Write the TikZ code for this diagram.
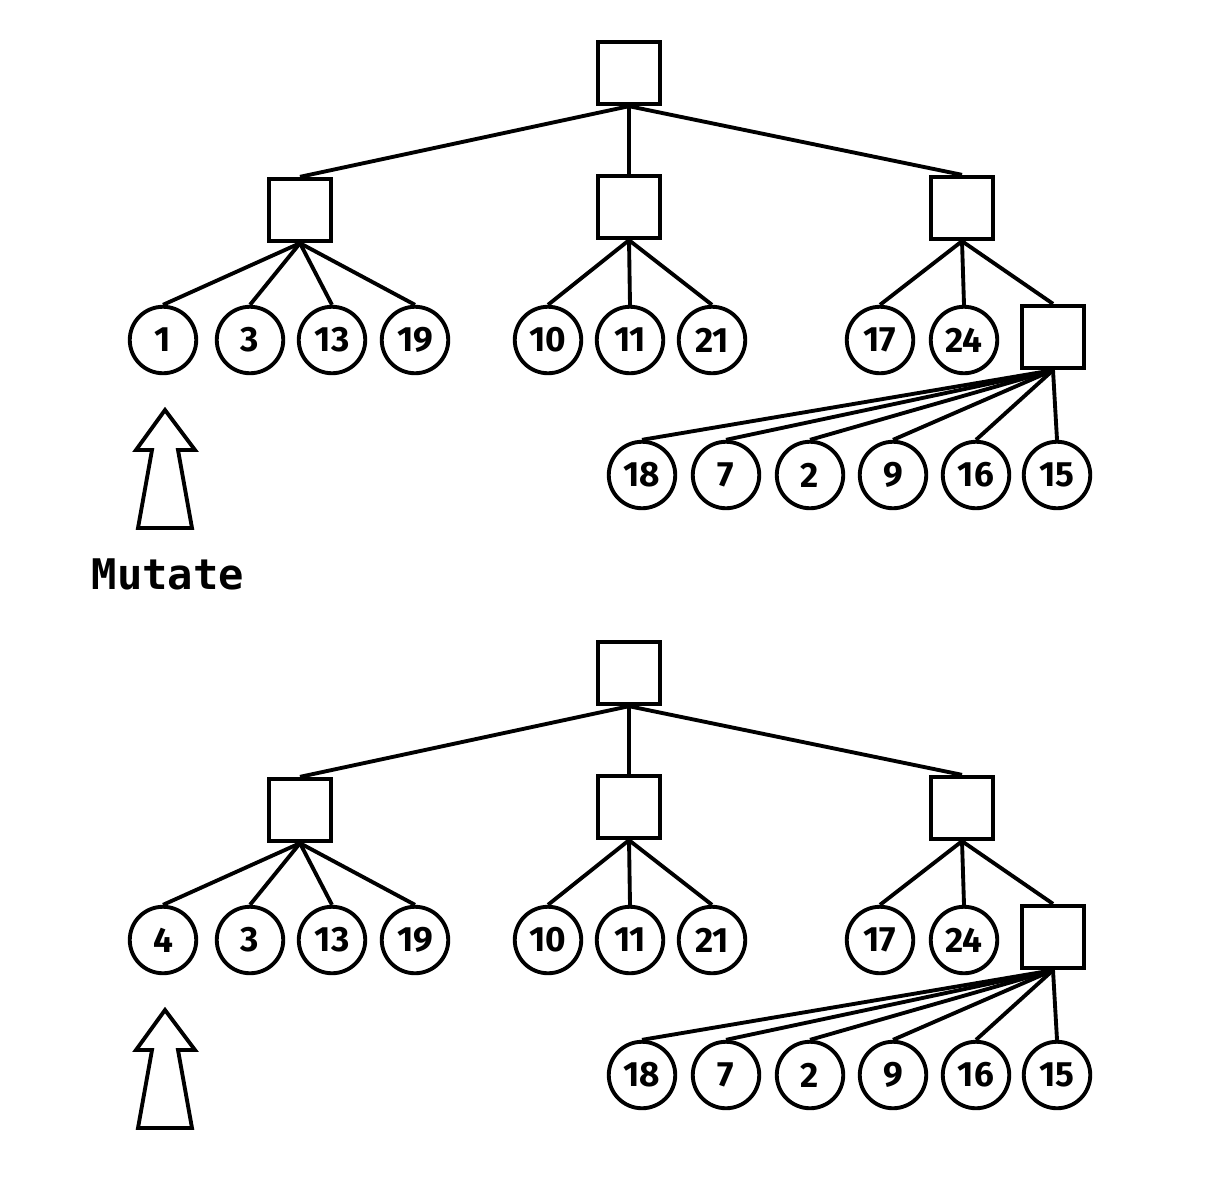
\documentclass[tikz,border=0pt]{standalone}
\usepackage{fontspec}
\setsansfont{Fira Sans}
\setmonofont{DejaVu Sans Mono}
\begin{document}
\begin{tikzpicture}
	[
		x                = 0.02cm,
		y                = -0.02cm,
		line width       = 2.2pt,
		box/.style       = {draw, minimum size=1.25cm, inner sep=0pt},
		leaf/.style      = {draw, circle, minimum size=1.33cm, inner sep=0pt,
		                    font=\sffamily\bfseries\fontsize{20}{20}\selectfont},
		uparrow/.style   = {draw, line join=miter}
	]
	\useasboundingbox (0,0) rectangle (1222,1177);
	% two copies of the tree, before and after the mutation
	\foreach \dy/\first/\t in {0/1/a, 600/4/b} {
		\begin{scope}[shift={(0,\dy)}]
			\node [box] (r\t) at (629, 73) {};
			\node [box] (a\t) at (300,210) {};
			\node [box] (b\t) at (629,207) {};
			\node [box] (c\t) at (962,208) {};
			\node [box] (d\t) at (1053,337) {};
			\foreach \n in {a,b,c}
				\draw (r\t.south) -- (\n\t.north);
			\foreach \lbl/\x [count=\i] in {\first/163, 3/250, 13/332, 19/415} {
				\node [leaf] (a\t\i) at (\x,340) {\lbl};
				\draw (a\t.south) -- (a\t\i.north);
			}
			\foreach \lbl/\x [count=\i] in {10/548, 11/630, 21/712} {
				\node [leaf] (b\t\i) at (\x,340) {\lbl};
				\draw (b\t.south) -- (b\t\i.north);
			}
			\foreach \lbl/\x [count=\i] in {17/880, 24/964} {
				\node [leaf] (c\t\i) at (\x,340) {\lbl};
				\draw (c\t.south) -- (c\t\i.north);
			}
			\draw (c\t.south) -- (d\t.north);
			\foreach \lbl/\x [count=\i] in {18/642, 7/726, 2/810, 9/893, 16/976, 15/1057} {
				\node [leaf] (d\t\i) at (\x,475) {\lbl};
				\draw (d\t.south) -- (d\t\i.north);
			}
			% hollow arrow
			\draw [uparrow] (165,410) -- (195,450) -- (178,450) -- (192,528)
				-- (138,528) -- (152,450) -- (136,450) -- cycle;
		\end{scope}
	}
	\node [font=\ttfamily\bfseries\fontsize{24}{24}\selectfont] (mutate) at (168,574) {Mutate};
\end{tikzpicture}
\end{document}
